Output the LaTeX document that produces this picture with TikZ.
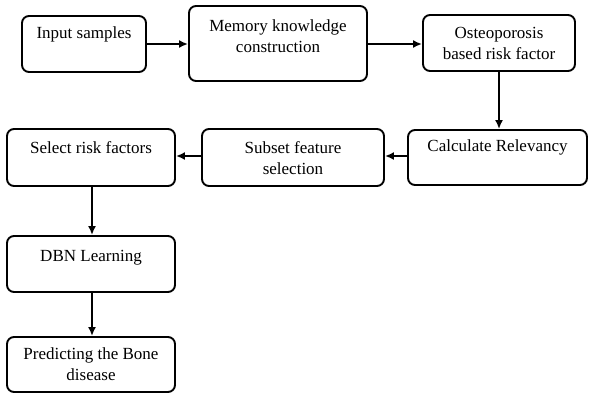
\documentclass[tikz,border=0pt]{standalone}
\usepackage{fontspec}
\setmainfont{Liberation Serif}
\usetikzlibrary{arrows.meta}
\tikzset{
  box/.style={draw, line width=1.9pt, rounded corners=7pt, inner sep=0pt},
  txt/.style={anchor=north, inner sep=0pt, align=center, font=\fontsize{17}{21}\selectfont},
  flow/.style={line width=2pt, -{Latex[length=9pt,width=8pt]}}
}
\begin{document}
\begin{tikzpicture}[x=1pt,y=-1pt]
\useasboundingbox (0,0) rectangle (589,394);
\node[box, minimum width=124pt, minimum height=56pt] (b1) at (84,44) {};
\node[box, minimum width=178pt, minimum height=75pt] (b2) at (278,43.5) {};
\node[box, minimum width=152pt, minimum height=56pt] (b3) at (499,43) {};
\node[box, minimum width=179pt, minimum height=55pt] (b4) at (497.5,157.5) {};
\node[box, minimum width=182pt, minimum height=57pt] (b5) at (293,157.5) {};
\node[box, minimum width=168pt, minimum height=57pt] (b6) at (91,157.5) {};
\node[box, minimum width=168pt, minimum height=56pt] (b7) at (91,264) {};
\node[box, minimum width=168pt, minimum height=55pt] (b8) at (91,364.5) {};
\node[txt] (t1) at ([yshift=-11pt]b1.north) {Input samples};
\node[txt] (t2) at ([yshift=-14pt]b2.north) {Memory knowledge\\construction};
\node[txt] (t3) at ([yshift=-13pt]b3.north) {Osteoporosis\\based risk factor};
\node[txt] (t4) at ([yshift=-10pt]b4.north) {Calculate Relevancy};
\node[txt] (t5) at ([yshift=-13pt]b5.north) {Subset feature\\selection};
\node[txt] (t6) at ([yshift=-13pt]b6.north) {Select risk factors};
\node[txt] (t7) at ([yshift=-15pt]b7.north) {DBN Learning};
\node[txt] (t8) at ([yshift=-11pt]b8.north) {Predicting the Bone\\disease};
\draw[flow] (b1.east) -- (b1.east -| b2.west);
\draw[flow] ([yshift=-0.5pt]b2.east) -- ([yshift=-0.5pt]b2.east -| b3.west);
\draw[flow] (b3.south) -- (b3.south |- b4.north);
\draw[flow] ([yshift=1.5pt]b4.west) -- ([yshift=1.5pt]b4.west -| b5.east);
\draw[flow] ([yshift=1.5pt]b5.west) -- ([yshift=1.5pt]b5.west -| b6.east);
\draw[flow] ([xshift=1pt]b6.south) -- ([xshift=1pt]b7.north);
\draw[flow] ([xshift=1pt]b7.south) -- ([xshift=1pt]b8.north);
\end{tikzpicture}
\end{document}
